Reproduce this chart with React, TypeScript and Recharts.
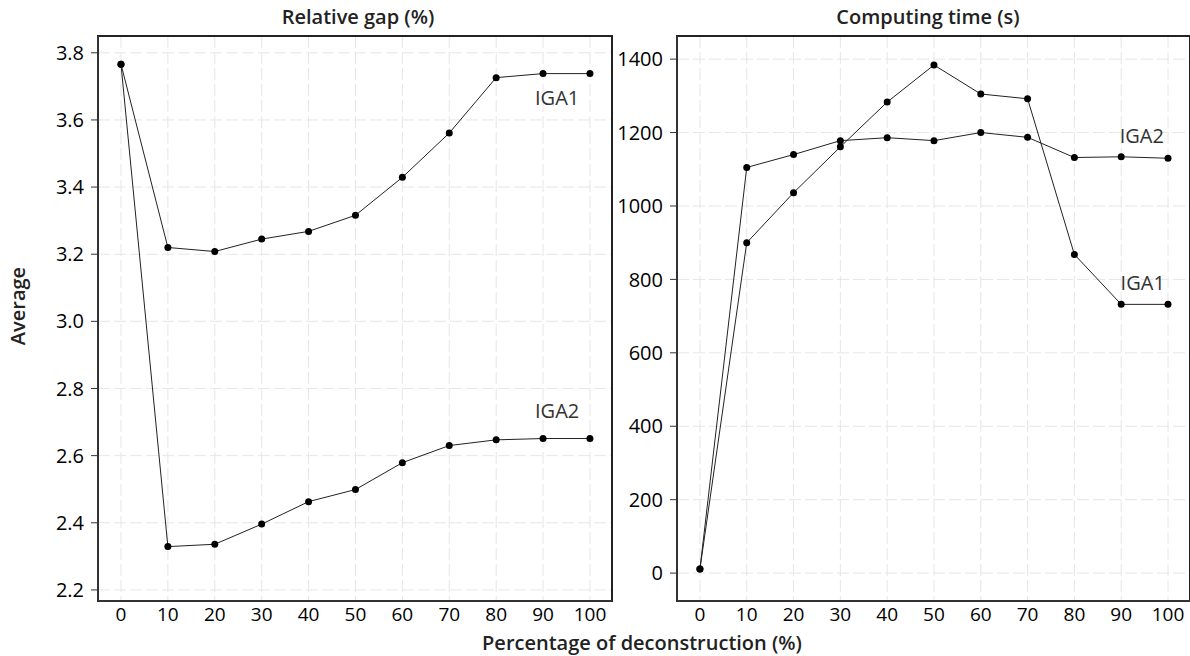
import { LineChart, Line, XAxis, YAxis, CartesianGrid, ReferenceArea, ReferenceDot } from "recharts";

const PCT = [0, 10, 20, 30, 40, 50, 60, 70, 80, 90, 100];
const GAP_IGA1 = [3.766, 3.22, 3.208, 3.245, 3.268, 3.316, 3.429, 3.561, 3.726, 3.738, 3.738];
const GAP_IGA2 = [3.766, 2.329, 2.336, 2.396, 2.463, 2.499, 2.579, 2.63, 2.647, 2.651, 2.651];
const TIME_IGA1 = [11, 900, 1036, 1161, 1283, 1384, 1305, 1292, 868, 732, 732];
const TIME_IGA2 = [11, 1105, 1140, 1178, 1186, 1178, 1200, 1187, 1132, 1134, 1130];
const GAP_TICKS = [2.2, 2.4, 2.6, 2.8, 3.0, 3.2, 3.4, 3.6, 3.8];
const TIME_TICKS = [0, 200, 400, 600, 800, 1000, 1200, 1400];

const X_DOMAIN: [number, number] = [-4.9, 104.7];
const FONT = '"Open Sans", sans-serif';
const INK = "#222";

type Note = { x: number; y: number; text: string };

function Panel({
  a,
  b,
  yDomain,
  yTicks,
  fmt,
  notes,
  width,
  right,
}: {
  a: number[];
  b: number[];
  yDomain: [number, number];
  yTicks: number[];
  fmt: (v: number) => string;
  notes: Note[];
  width: number;
  right: number;
}) {
  const data = PCT.map((p, i) => ({ pct: p, iga1: a[i], iga2: b[i] }));
  return (
    <LineChart width={width} height={656} data={data} margin={{ top: 36, right, bottom: 0, left: 0 }}>
      <CartesianGrid stroke="#e6e6e6" strokeDasharray="12 4" />
      <XAxis
        dataKey="pct"
        type="number"
        domain={X_DOMAIN}
        ticks={PCT}
        interval={0}
        allowDataOverflow
        height={55}
        tickLine={false}
        tickSize={6}
        tickMargin={1}
        axisLine={{ stroke: "#333", strokeWidth: 2 }}
        tick={{ fill: "#000", fontSize: 19, fontFamily: FONT }}
      />
      <YAxis
        type="number"
        domain={yDomain}
        ticks={yTicks}
        interval={0}
        allowDataOverflow
        width={98}
        tickSize={7}
        tickMargin={7}
        tickFormatter={fmt}
        tickLine={{ stroke: "#333" }}
        axisLine={{ stroke: "#333", strokeWidth: 2 }}
        tick={{ fill: "#000", fontSize: 20, fontFamily: FONT }}
      />
      <Line type="linear" dataKey="iga1" stroke={INK} strokeWidth={1} dot={{ r: 3.5, fill: "#000", stroke: "none" }} isAnimationActive={false} />
      <Line type="linear" dataKey="iga2" stroke={INK} strokeWidth={1} dot={{ r: 3.5, fill: "#000", stroke: "none" }} isAnimationActive={false} />
      <ReferenceArea x1={X_DOMAIN[0]} x2={X_DOMAIN[1]} y1={yDomain[0]} y2={yDomain[1]} fill="none" stroke="#222" strokeWidth={2} />
      {notes.map((n) => (
        <ReferenceDot
          key={n.text}
          x={n.x}
          y={n.y}
          r={1}
          fill="none"
          stroke="none"
          label={{ value: n.text, position: "center", fill: "#333", fontSize: 20, fontWeight: 500, fontFamily: FONT }}
        />
      ))}
    </LineChart>
  );
}

const text = (extra: React.CSSProperties): React.CSSProperties => ({
  position: "absolute",
  fontFamily: FONT,
  fontSize: 20,
  fontWeight: 600,
  color: "#222",
  lineHeight: 1,
  whiteSpace: "nowrap",
  transform: "translate(-50%, -50%)",
  ...extra,
});

export default function App() {
  return (
    <div style={{ position: "absolute", left: 0, top: 0, width: 1190, height: 656, background: "#fff", overflow: "hidden" }}>
      <div style={{ position: "absolute", left: 0, top: 0 }}>
        <Panel
          a={GAP_IGA1}
          b={GAP_IGA2}
          yDomain={[2.167, 3.85]}
          yTicks={GAP_TICKS}
          fmt={(v) => v.toFixed(1)}
          notes={[
            { x: 93, y: 3.665, text: "IGA1" },
            { x: 93, y: 2.733, text: "IGA2" },
          ]}
          width={640}
          right={28}
        />
      </div>
      <div style={{ position: "absolute", left: 579, top: 0 }}>
        <Panel
          a={TIME_IGA1}
          b={TIME_IGA2}
          yDomain={[-76, 1463]}
          yTicks={TIME_TICKS}
          fmt={(v) => String(v)}
          notes={[
            { x: 94.4, y: 1192, text: "IGA2" },
            { x: 94.6, y: 791, text: "IGA1" },
          ]}
          width={612}
          right={1}
        />
      </div>
      <div style={text({ left: 358, top: 17 })}>Relative gap (%)</div>
      <div style={text({ left: 928, top: 17 })}>Computing time (s)</div>
      <div style={text({ left: 642, top: 643 })}>Percentage of deconstruction (%)</div>
      <div style={text({ left: 18, top: 306, transform: "translate(-50%, -50%) rotate(-90deg)" })}>Average</div>
    </div>
  );
}
